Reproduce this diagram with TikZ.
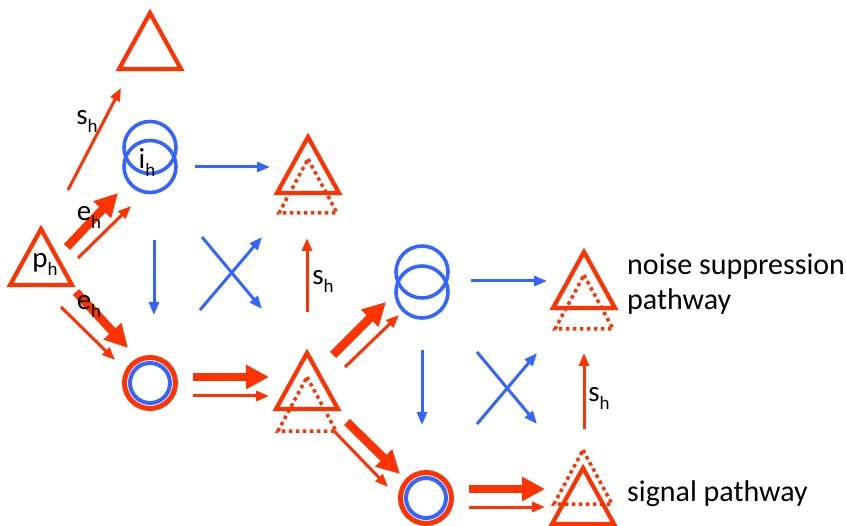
\documentclass[tikz,border=0pt]{standalone}
\usepackage{fontspec}
\setmainfont{Carlito}
\usetikzlibrary{arrows.meta,calc}
\definecolor{redc}{RGB}{255,51,0}
\definecolor{bluec}{RGB}{51,102,255}
\newcommand\lbl[2]{#1\raisebox{-8pt}{\fontsize{19}{19}\selectfont #2}}
\tikzset{
 soltri/.pic={\draw[redc,line width=4.2pt] (0,-28) -- (31,28) -- (-31,28) -- cycle;},
 dottri/.pic={\draw[redc,line width=3.5pt,dash pattern=on 3.5pt off 3.5pt] (0,-27) -- (29,27) -- (-29,27) -- cycle;},
 thickarr/.style={redc,line width=8.5pt,-{Triangle[length=23pt,width=23pt]}},
 thinarr/.style={redc,line width=3pt,-{Triangle[length=13pt,width=10pt]}},
 bluearr/.style={bluec,line width=3pt,-{Triangle[length=13pt,width=10pt]}},
 bring/.style={bluec,line width=3.6pt},
 rring/.style={redc,line width=5pt},
 lab/.style={font=\fontsize{29}{29}\selectfont, inner sep=0pt},
 txt/.style={font=\fontsize{30}{30}\selectfont, inner sep=0pt, anchor=base west},
}
\begin{document}
\begin{tikzpicture}[x=1pt,y=-1pt]
\useasboundingbox (0,0) rectangle (846,526);
% triangle positions
\coordinate (T0) at (150,41);
\coordinate (P) at (41,257);
\coordinate (T1) at (308,165);
\coordinate (T2) at (307,381);
\coordinate (T3) at (584,280);
\coordinate (T4) at (583,496);
\pic at (T0) {soltri};
\pic at (P) {soltri};
\pic at (T1) {soltri};
\pic at ($(T1)+(0,21)$) {dottri};
\pic at (T2) {soltri};
\pic at ($(T2)+(0,23)$) {dottri};
\pic at (T3) {soltri};
\pic at ($(T3)+(0,22)$) {dottri};
\pic at (T4) {soltri};
\pic at ($(T4)+(0,-19)$) {dottri};
% double circles
\coordinate (I1) at (150,157);
\coordinate (I2) at (422,282);
\draw[bring] ($(I1)+(0,-9.5)$) circle[radius=26pt];
\draw[bring] ($(I1)+(0,9.5)$) circle[radius=26pt];
\draw[bring] ($(I2)+(0,-10)$) circle[radius=26pt];
\draw[bring] ($(I2)+(0,10)$) circle[radius=26pt];
% ringed circles
\coordinate (C1) at (150,383);
\coordinate (C2) at (426,498);
\draw[rring] (C1) circle[radius=25.5pt];
\draw[bring,line width=4pt] (C1) circle[radius=20pt];
\draw[rring] (C2) circle[radius=25.5pt];
\draw[bring,line width=4pt] (C2) circle[radius=20pt];
% labels inside shapes
\node[lab] (lph) at (45,264) {\lbl{p}{h}};
\node[lab] (lih) at (147,163) {\lbl{i}{h}};
% arrow end points
\coordinate (a1s) at (68,190);  \coordinate (a1e) at (121,88);
\coordinate (a2s) at (67,247);  \coordinate (a2e) at (118,193);
\coordinate (a3s) at (78,258);  \coordinate (a3e) at (131,206);
\coordinate (a4s) at (76,292);  \coordinate (a4e) at (128,348);
\coordinate (a5s) at (61,307);  \coordinate (a5e) at (115,360);
\coordinate (a6s) at (195,167); \coordinate (a6e) at (270,167);
\coordinate (a7s) at (154,240); \coordinate (a7e) at (154,315);
\coordinate (a8s) at (202,237); \coordinate (a8e) at (262,309);
\coordinate (a9s) at (200,310); \coordinate (a9e) at (262,237);
\coordinate (a10s) at (307,312); \coordinate (a10e) at (307,238);
\coordinate (a11s) at (193,377); \coordinate (a11e) at (269,377);
\coordinate (a12s) at (193,396); \coordinate (a12e) at (269,396);
\coordinate (a13s) at (333,355); \coordinate (a13e) at (386,302);
\coordinate (a14s) at (345,367); \coordinate (a14e) at (399,315);
\coordinate (a15s) at (347,422); \coordinate (a15e) at (400,474);
\coordinate (a16s) at (334,431); \coordinate (a16e) at (388,487);
\coordinate (a17s) at (471,281); \coordinate (a17e) at (547,281);
\coordinate (a18s) at (422,350); \coordinate (a18e) at (422,425);
\coordinate (a19s) at (477,352); \coordinate (a19e) at (537,424);
\coordinate (a20s) at (477,424); \coordinate (a20e) at (537,353);
\coordinate (a21s) at (584,429); \coordinate (a21e) at (584,353);
\coordinate (a22s) at (469,489); \coordinate (a22e) at (545,489);
\coordinate (a23s) at (469,507); \coordinate (a23e) at (545,507);
% arrows
\draw[thinarr] (a1s) -- (a1e);
\draw[thickarr] (a2s) -- (a2e);
\draw[thinarr] (a3s) -- (a3e);
\draw[thickarr] (a4s) -- (a4e);
\draw[thinarr] (a5s) -- (a5e);
\draw[bluearr] (a6s) -- (a6e);
\draw[bluearr] (a7s) -- (a7e);
\draw[bluearr] (a8s) -- (a8e);
\draw[bluearr] (a9s) -- (a9e);
\draw[thinarr] (a10s) -- (a10e);
\draw[thickarr] (a11s) -- (a11e);
\draw[thinarr] (a12s) -- (a12e);
\draw[thickarr] (a13s) -- (a13e);
\draw[thinarr] (a14s) -- (a14e);
\draw[thickarr] (a15s) -- (a15e);
\draw[thinarr] (a16s) -- (a16e);
\draw[bluearr] (a17s) -- (a17e);
\draw[bluearr] (a18s) -- (a18e);
\draw[bluearr] (a19s) -- (a19e);
\draw[bluearr] (a20s) -- (a20e);
\draw[thinarr] (a21s) -- (a21e);
\draw[thickarr] (a22s) -- (a22e);
\draw[thinarr] (a23s) -- (a23e);
% arrow labels
\node[lab] (ls1) at (87,121) {\lbl{s}{h}};
\node[lab] (le1) at (89,217) {\lbl{e}{h}};
\node[lab] (le2) at (89,306) {\lbl{e}{h}};
\node[lab] (ls2) at (323,281) {\lbl{s}{h}};
\node[lab] (ls3) at (599,398) {\lbl{s}{h}};
% side texts
\node[txt] (n1) at (627,275) {noise suppression};
\node[txt] (n2) at (627,310) {pathway};
\node[txt] (n3) at (627,501) {signal pathway};
\end{tikzpicture}
\end{document}
